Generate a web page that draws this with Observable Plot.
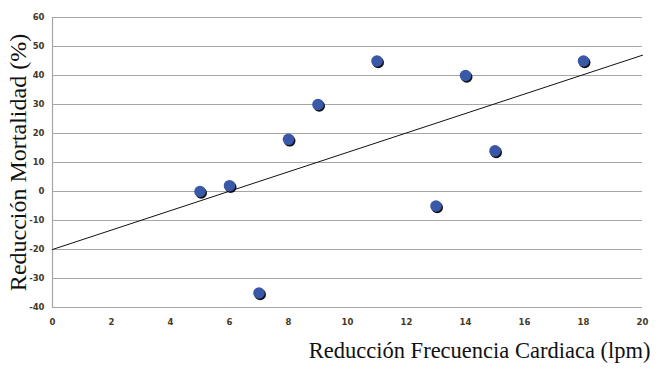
<!DOCTYPE html>
<html>
<head>
<meta charset="utf-8">
<script src="https://cdn.jsdelivr.net/npm/d3@7"></script>
<script src="https://cdn.jsdelivr.net/npm/@observablehq/plot@0.6"></script>
<style>
  html, body { margin: 0; padding: 0; background: #fff; }
</style>
</head>
<body>
<div id="chart"></div>
<script>
const heartRateReduction = [5, 6, 7, 8, 9, 11, 13, 14, 15, 18];
const mortalityReduction = [0, 2, -35, 18, 30, 45, -5, 40, 14, 45];
const trendX = [0, 20];
const trendY = [-20, 47];
const xTicks = [0, 2, 4, 6, 8, 10, 12, 14, 16, 18, 20];
const yTicks = [-40, -30, -20, -10, 0, 10, 20, 30, 40, 50, 60];
const xTitle = "Reducción Frecuencia Cardiaca (lpm)";
const yTitle = "Reducción Mortalidad (%)";

const points = heartRateReduction.map((x, i) => ({x, y: mortalityReduction[i]}));
const trend = trendX.map((x, i) => ({x, y: trendY[i]}));

const chart = Plot.plot({
  width: 667,
  height: 387,
  marginLeft: 52,
  marginRight: 25,
  marginTop: 17,
  marginBottom: 80,
  style: {background: "#fff", overflow: "visible"},
  x: {domain: [0, 20], ticks: xTicks},
  y: {domain: [-40, 60], ticks: yTicks},
  marks: [
    Plot.ruleY(yTicks, {stroke: "#a6a6a6", strokeWidth: 1.2}),
    Plot.ruleX([0], {stroke: "#a6a6a6", strokeWidth: 1.2}),
    Plot.axisX({ticks: xTicks, tickSize: 0, tickPadding: 11, label: null, tickFormat: d => String(d),
      fontSize: 8.5, fontFamily: "DejaVu Sans", fontWeight: "bold", fill: "#433a26"}),
    Plot.axisY({ticks: yTicks, tickSize: 0, tickPadding: 8, label: null, tickFormat: d => String(d),
      fontSize: 8.5, fontFamily: "DejaVu Sans", fontWeight: "bold", fill: "#433a26"}),
    Plot.line(trend, {x: "x", y: "y", stroke: "#111", strokeWidth: 1}),
    Plot.dot(points, {x: "x", y: "y", r: 5.8, fill: "#111", dx: 1.2, dy: 1.5}),
    Plot.dot(points, {x: "x", y: "y", r: 5.8, fill: "#3a58a8"}),
    Plot.text([yTitle], {frameAnchor: "left", text: d => d, rotate: -90, dx: -34,
      fontSize: 24, fontFamily: "Liberation Serif", fill: "#111", textAnchor: "middle", lineAnchor: "middle"}),
    Plot.text([xTitle], {frameAnchor: "bottom-right", text: d => d, dx: 8, dy: 43,
      fontSize: 22.5, fontFamily: "Liberation Serif", fill: "#111", textAnchor: "end", lineAnchor: "middle"})
  ]
});
document.getElementById("chart").appendChild(chart);
</script>
</body>
</html>
